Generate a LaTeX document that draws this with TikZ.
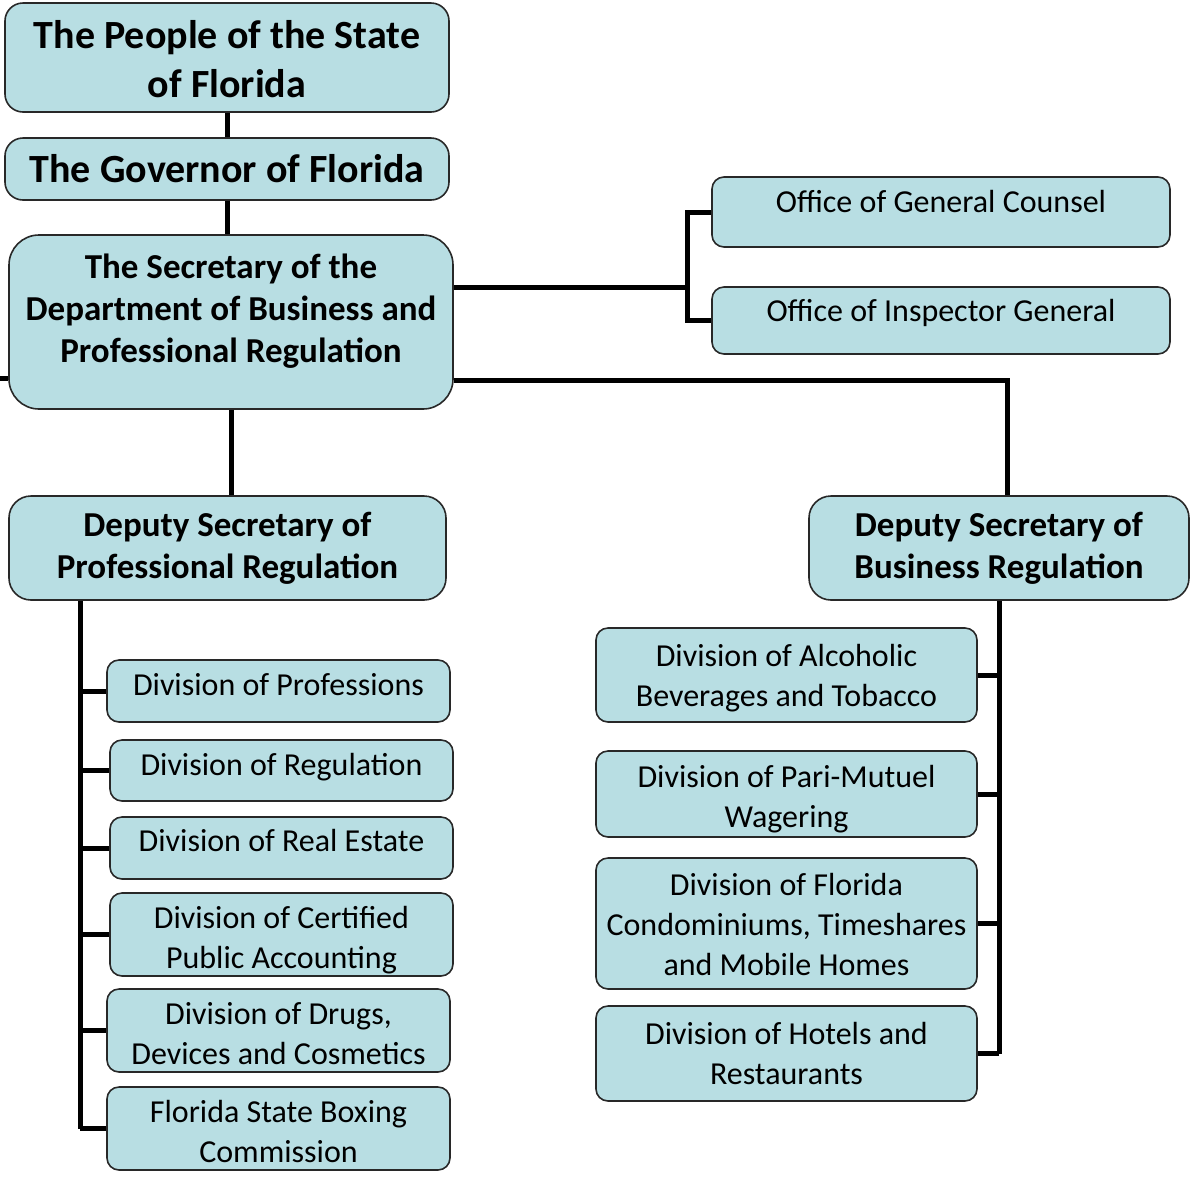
\documentclass[tikz,border=0pt]{standalone}
\usepackage{fontspec}
\setmainfont{Carlito}

\definecolor{boxfill}{RGB}{184,222,227}
\definecolor{boxline}{RGB}{40,40,40}

% raise the text inside a box without changing the box
\newcommand{\liftby}[2]{\raisebox{#1}[\height][\depth]{\begin{tabular}{@{}c@{}}#2\end{tabular}}}

\tikzset{
  box/.style={draw=boxline, line width=0.8pt, fill=boxfill, rounded corners=6pt,
    align=center, inner sep=0pt, font=\fontsize{16}{20}\selectfont},
  head/.style={box, rounded corners=9pt, font=\bfseries\fontsize{20}{24.5}\selectfont},
  chief/.style={box, rounded corners=11pt, font=\bfseries\fontsize{17.5}{21}\selectfont},
  link/.style={line width=2.5pt},
}

\begin{document}
\begin{tikzpicture}[x=0.5pt, y=-0.5pt]
	\useasboundingbox (0,0) rectangle (1190,1185);

	% top of the chart
	\node [head, minimum width=222pt, minimum height=54.5pt] (people) at (227,57.5) {\liftby{-3pt}{The People of the State\\of Florida}};
	\node [head, minimum width=222pt, minimum height=31pt] (gov) at (227,169) {The Governor of Florida};
	\node [chief, rounded corners=15pt, minimum width=222pt, minimum height=87pt] (sec) at (231,322)
		{\liftby{5pt}{The Secretary of the\\Department of Business and\\Professional Regulation}};

	% offices
	\node [box, minimum width=229pt, minimum height=35pt] (gc) at (941,212) {\liftby{4pt}{Office of General Counsel}};
	\node [box, minimum width=229pt, minimum height=33.5pt] (ig) at (941,320.5) {\liftby{3.5pt}{Office of Inspector General}};

	% deputies
	\node [chief, minimum width=218.5pt, minimum height=52pt] (depp) at (227.5,548) {Deputy Secretary of\\Professional Regulation};
	\node [chief, minimum width=190pt, minimum height=52pt] (depb) at (999,548) {Deputy Secretary of\\Business Regulation};

	% professional regulation divisions
	\node [box, minimum width=171.5pt, minimum height=31pt] (prof) at (278.5,691) {\liftby{2pt}{Division of Professions}};
	\node [box, minimum width=171.5pt, minimum height=30.5pt] (reg) at (281.5,770.5) {\liftby{1.5pt}{Division of Regulation}};
	\node [box, minimum width=171.5pt, minimum height=31pt] (real) at (281.5,848) {\liftby{2.5pt}{Division of Real Estate}};
	\node [box, minimum width=171.5pt, minimum height=41.5pt] (cpa) at (281.5,934.5) {\liftby{-3pt}{Division of Certified\\Public Accounting}};
	\node [box, minimum width=171.5pt, minimum height=41.5pt] (drugs) at (278.5,1030.5) {\liftby{-3pt}{Division of Drugs,\\Devices and Cosmetics}};
	\node [box, minimum width=171.5pt, minimum height=41.5pt] (boxing) at (278.5,1128.5) {\liftby{-3pt}{Florida State Boxing\\Commission}};

	% business regulation divisions
	\node [box, minimum width=190.5pt, minimum height=47pt] (alc) at (786.5,675) {\liftby{-1.5pt}{Division of Alcoholic\\Beverages and Tobacco}};
	\node [box, minimum width=190.5pt, minimum height=43pt] (pari) at (786.5,794) {\liftby{-2.5pt}{Division of Pari-Mutuel\\Wagering}};
	\node [box, minimum width=190.5pt, minimum height=65.5pt] (condo) at (786.5,923.5) {\liftby{-2pt}{Division of Florida\\Condominiums, Timeshares\\and Mobile Homes}};
	\node [box, minimum width=190.5pt, minimum height=47.5pt] (hotels) at (786.5,1053.5) {Division of Hotels and\\Restaurants};

	% joints
	\coordinate (oj) at (687,287);
	\coordinate (bj) at (1007,380);
	\coordinate (stub) at (0,378);
	\coordinate (pspine) at (80,600);

	\draw [link] (people) -- (gov);
	\draw [link] (gov) -- (gov |- sec.north);
	\draw [link] (sec.east |- oj) -- (oj);
	\draw [link] (gc.west) -| (oj) |- (ig.west);
	\draw [link] (sec.east |- bj) -| (depb.north -| bj);
	\draw [link] (sec.west |- stub) -- (stub);
	\draw [link] (sec.south) -- (sec.south |- depp.north);

	\draw [link] (pspine |- depp.south) -- (pspine |- boxing.west);
	\foreach \n in {prof, reg, real, cpa, drugs, boxing}
		\draw [link] (pspine |- \n.west) -- (\n.west);

	\draw [link] (depb.south) -- (depb.south |- hotels.east);
	\foreach \n in {alc, pari, condo, hotels}
		\draw [link] (depb.south |- \n.east) -- (\n.east);
\end{tikzpicture}
\end{document}
